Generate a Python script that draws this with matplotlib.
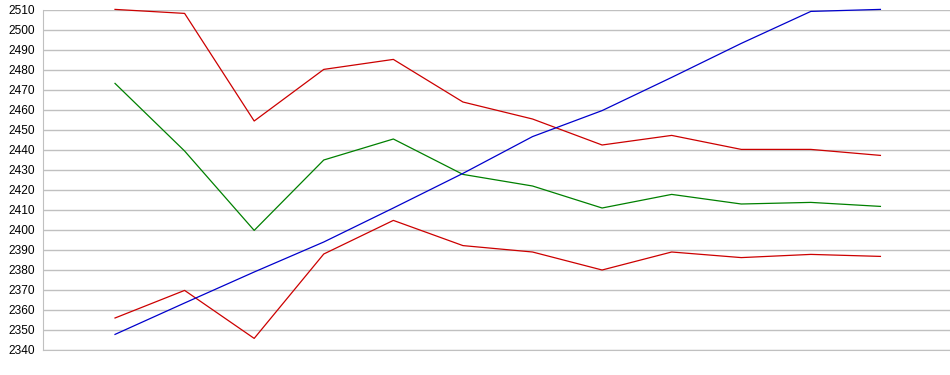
import matplotlib
matplotlib.use('Agg')
import matplotlib.pyplot as plt

idx = list(range(12))
red_top = [2510.3, 2508.3, 2454.5, 2480.3, 2485.3, 2464.0, 2455.5, 2442.5, 2447.3, 2440.3, 2440.3, 2437.3]
green = [2473.3, 2439.5, 2399.8, 2435.0, 2445.5, 2427.8, 2422.0, 2411.0, 2417.8, 2413.0, 2413.8, 2411.8]
red_low = [2356.0, 2369.8, 2345.8, 2388.0, 2404.8, 2392.2, 2389.0, 2380.0, 2389.0, 2386.2, 2387.8, 2386.8]
blue = [2347.8, 2363.5, 2379.0, 2394.0, 2411.0, 2428.3, 2446.7, 2459.7, 2476.3, 2493.3, 2509.3, 2510.3]
yticks = list(range(2340, 2511, 10))

plt.rcParams['font.family'] = ['Liberation Sans', 'DejaVu Sans']

fig = plt.figure(figsize=(9.5, 3.75), dpi=100)
ax = fig.add_axes([43/950, 1 - 350/375, 1 - 43/950, 340/375])

# series lines
for ys, c in [(red_top, '#cc0000'), (green, '#008000'), (red_low, '#cc0000'), (blue, '#0000cc')]:
    ax.plot(idx, ys, color=c, lw=0.9, clip_on=False)

ax.set_xlim(-1.035, 12.0)
ax.set_ylim(2340, 2510)
ax.set_yticks(yticks)
ax.set_xticks([])
ax.yaxis.grid(True, color='#c0c0c0', lw=1)
ax.set_axisbelow(True)
ax.tick_params(axis='y', length=0, pad=6, labelsize=8.6)
for s in ['top', 'right']:
    ax.spines[s].set_visible(False)
ax.spines['left'].set_color('#c0c0c0')
ax.spines['bottom'].set_color('#c0c0c0')

fig.savefig('out.png', dpi=100)
